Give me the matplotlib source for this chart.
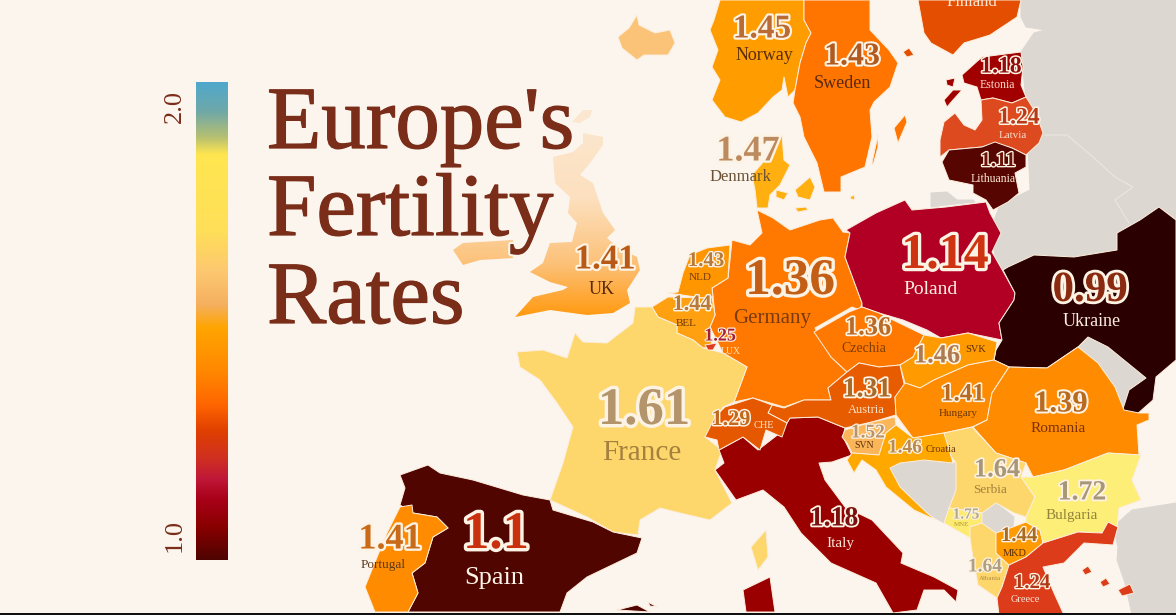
import numpy as np
import matplotlib
matplotlib.use("Agg")
import matplotlib.pyplot as plt
from matplotlib.colors import LinearSegmentedColormap
from matplotlib.patches import Polygon
import matplotlib.patheffects as pe

# ---------- data ----------
labels = ["Norway", "Sweden", "Estonia", "Latvia", "Lithuania", "Denmark", "Poland", "Germany",
          "UK", "NLD", "BEL", "LUX", "Ukraine", "Czechia", "SVK", "Hungary", "Romania", "Austria",
          "CHE", "France", "Italy", "SVN", "Croatia", "Serbia", "Bulgaria", "MNE", "MKD", "Albania",
          "Greece", "Spain", "Portugal"]
rates = [1.45, 1.43, 1.18, 1.24, 1.11, 1.47, 1.14, 1.36,
         1.41, 1.43, 1.44, 1.25, 0.99, 1.36, 1.46, 1.41, 1.39, 1.31,
         1.29, 1.61, 1.18, 1.52, 1.46, 1.64, 1.72, 1.75, 1.44, 1.64,
         1.24, 1.10, 1.41]
scale_ticks = [1.0, 2.0]

# ---------- scale ----------
scale_stops = [(0.00, "#4fa8cc"), (0.06, "#6fa8a8"), (0.115, "#b8c070"), (0.15, "#ffe650"),
               (0.31, "#ffdf58"), (0.395, "#fdc870"), (0.465, "#f5b060"), (0.515, "#ffa500"),
               (0.605, "#ff8800"), (0.675, "#ff6600"), (0.73, "#e04000"), (0.787, "#d03020"),
               (0.83, "#c01838"), (0.875, "#a80018"), (0.933, "#880000"), (1.00, "#4f0400")]
scale_cmap = LinearSegmentedColormap.from_list("fertility", scale_stops)

# ---------- styles ----------
BG = "#fbf5ee"
GREY = "#dcd8d1"
EDGE = "#fdeedd"
TITLE = "#7a2d18"
SERIF = "Liberation Serif"

fills = {"Norway": "#ff9d00", "Sweden": "#ff7500", "Estonia": "#a00000", "Latvia": "#dd4a20",
         "Lithuania": "#560500", "Denmark": "#ffb010", "Poland": "#b10024", "Germany": "#ff7900",
         "NLD": "#ff9600", "BEL": "#ffa010", "LUX": "#e03a20", "Ukraine": "#2b0000",
         "Czechia": "#ff7900", "SVK": "#ff9b00", "Hungary": "#ff8c00", "Romania": "#ff8c00",
         "Austria": "#e85c00", "CHE": "#e65800", "France": "#fdd76c", "Italy": "#9a0000",
         "SVN": "#fbb65a", "Croatia": "#ffa800", "Serbia": "#fdd76c", "Bulgaria": "#fdee78",
         "MNE": "#fdea70", "MKD": "#ff9a00", "Albania": "#fdd76c", "Greece": "#dc3c1a",
         "Spain": "#500500", "Portugal": "#ff8c00", "Finland": "#e34e00", "Iceland": "#fbc377",
         "Grey": GREY}

# name -> list of outline rings, traced in picture pixels
outlines = {
 "Grey": [[(1021,0),(1176,0),(1176,360),(1100,360),(1000,280),(990,230),(1000,205),(1030,190),(1026,100),(1021,52),(1034,33),(1045,30),(1026,27),(1021,17)],
          [(931,193),(947,192),(957,200),(973,200),(975,202),(946,205),(931,207)],
          [(1078,347),(1088,337),(1108,347),(1146,378),(1129,390),(1122,412),(1115,387),(1098,363)],
          [(890,468),(900,463),(924,460),(953,463),(956,463),(956,490),(965,497),(949,508),(944,523),(927,513),(900,487)],
          [(982,513),(996,503),(1014,517),(1013,527),(996,533),(982,523)],
          [(1113,527),(1132,510),(1176,503),(1176,615),(1132,615),(1125,583),(1117,560),(1118,547)]],
 "Iceland": [[(618,37),(629,28),(637,15),(639,25),(655,33),(670,30),(675,43),(668,55),(644,55),(637,60),(622,48)]],
 "Finland": [[(918,0),(1021,0),(1017,17),(990,35),(964,43),(953,55),(931,43),(924,33)],
             [(903,52),(909,48),(914,55),(907,57)]],
 "Norway": [[(720,0),(714,20),(710,30),(718,50),(712,67),(720,80),(712,100),(725,117),(741,122),(758,113),(773,97),(782,90),(784,77),(788,97),(795,90),(800,63),(806,43),(811,33),(804,20),(804,0)]],
 "Sweden": [[(804,0),(804,20),(811,33),(806,43),(800,63),(795,90),(793,103),(800,117),(804,137),(817,163),(824,192),(841,192),(841,177),(865,167),(872,137),(870,110),(874,102),(890,87),(898,63),(889,50),(870,30),(870,0)],
            [(894,128),(905,115),(907,122),(898,143)],
            [(872,163),(878,135),(878,147),(873,165)]],
 "Estonia": [[(962,75),(982,57),(1021,52),(1023,67),(1021,85),(1026,97),(1012,103),(993,98),(981,100),(977,87),(964,83)],
             [(946,80),(955,78),(953,87),(947,85)],
             [(944,100),(953,90),(962,90),(953,100),(947,107)]],
 "Latvia": [[(940,157),(940,140),(944,122),(955,113),(964,125),(975,130),(982,120),(981,100),(993,98),(1012,103),(1026,97),(1036,113),(1043,133),(1039,143),(1026,155),(1012,148),(995,143),(982,147),(949,150)]],
 "Lithuania": [[(942,162),(949,150),(982,147),(995,142),(1012,148),(1026,155),(1026,167),(1015,173),(1019,193),(1008,202),(993,210),(986,200),(973,193),(973,185),(949,180)]],
 "Denmark": [[(752,175),(772,152),(782,135),(784,160),(790,165),(780,185),(770,195),(768,208),(757,208),(755,190)],
             [(795,190),(810,177),(815,187),(810,200),(798,197)],
             [(776,190),(788,193),(784,200),(776,197)],
             [(795,208),(806,207),(808,210),(798,212)],
             [(850,197),(854,195),(855,200),(851,199)]],
 "Germany": [[(757,210),(773,218),(790,230),(820,220),(833,218),(843,232),(850,233),(845,257),(862,303),(860,310),(852,307),(815,328),(831,357),(847,372),(828,388),(831,400),(804,400),(784,407),(753,398),(734,402),(747,367),(723,353),(710,327),(715,315),(712,288),(728,278),(730,260),(732,240),(750,245),(762,233)]],
 "Poland": [[(846,230),(876,213),(905,200),(912,210),(946,207),(986,202),(990,213),(1001,233),(992,252),(1004,273),(1015,293),(1014,300),(999,323),(1002,340),(968,333),(941,338),(927,330),(903,320),(879,313),(862,307),(862,303),(845,257),(850,233)]],
 "NLD": [[(668,293),(678,292),(683,273),(690,255),(707,248),(730,245),(728,278),(712,288),(713,297),(703,298)]],
 "BEL": [[(652,307),(668,297),(703,298),(712,297),(715,315),(710,327),(712,347),(703,348),(693,340),(677,333),(677,325),(658,317)]],
 "France": [[(517,352),(543,350),(567,358),(575,333),(583,342),(607,343),(633,323),(635,307),(652,307),(658,317),(677,325),(677,333),(693,340),(703,348),(723,353),(747,367),(734,402),(723,407),(705,437),(722,450),(715,470),(732,503),(710,520),(680,513),(660,508),(640,520),(638,535),(613,532),(587,517),(550,500),(563,463),(573,427),(557,403),(540,380),(520,367)],
            [(766,530),(768,557),(758,570),(751,547)]],
 "LUX": [[(705,345),(717,343),(713,350),(708,350)]],
 "Spain": [[(400,475),(428,465),(440,473),(473,480),(523,495),(550,500),(553,510),(593,522),(613,532),(642,538),(637,553),(587,577),(567,593),(560,612),(408,612),(418,593),(412,573),(425,563),(433,537),(448,528),(437,517),(413,513),(400,505),(405,488)],
           [(617,610),(637,605),(650,612)],
           [(648,602),(657,607),(650,606)]],
 "Portugal": [[(400,507),(412,505),(413,513),(437,517),(448,528),(433,537),(425,563),(412,573),(418,593),(408,612),(375,612),(365,587),(373,567),(387,533)]],
 "Italy": [[(719,450),(743,437),(758,450),(780,433),(790,418),(818,417),(845,428),(843,437),(852,455),(832,462),(819,463),(825,480),(845,507),(872,520),(903,553),(901,563),(934,577),(958,590),(956,602),(944,590),(924,590),(917,610),(893,613),(876,583),(831,563),(801,533),(784,507),(763,490),(736,500),(715,470),(724,463)],
           [(743,590),(770,577),(775,612),(746,612)]],
 "Ukraine": [[(996,350),(994,360),(1009,367),(1047,368),(1078,347),(1088,337),(1108,347),(1146,378),(1129,390),(1122,412),(1136,415),(1153,400),(1156,377),(1176,360),(1176,220),(1159,207),(1140,220),(1117,233),(1117,250),(1074,257),(1034,255),(1008,267),(1003,270),(1015,293),(1014,300),(999,323),(1002,340)]],
 "Czechia": [[(814,332),(849,312),(862,307),(879,313),(893,320),(924,335),(913,357),(900,365),(879,367),(859,363),(847,372),(831,357)]],
 "SVK": [[(924,335),(941,338),(968,333),(997,342),(994,360),(968,365),(934,380),(920,388),(905,383),(900,365),(913,357)]],
 "Austria": [[(772,405),(784,408),(804,400),(831,400),(828,388),(847,372),(859,363),(879,367),(900,365),(905,388),(895,397),(896,415),(872,422),(845,428),(818,417),(790,418),(787,423),(768,413)]],
 "CHE": [[(705,437),(715,417),(725,407),(753,398),(772,405),(768,413),(787,423),(782,437),(766,430),(760,450),(743,437),(719,450),(717,440)]],
 "Hungary": [[(905,383),(920,388),(934,380),(968,365),(994,360),(1009,367),(992,393),(987,420),(972,427),(944,433),(913,438),(896,415),(895,397)]],
 "Romania": [[(1009,367),(1047,368),(1078,347),(1098,363),(1115,387),(1124,410),(1139,413),(1149,413),(1149,420),(1137,425),(1139,455),(1108,453),(1064,470),(1033,477),(1026,463),(996,453),(973,427),(987,420),(992,393)]],
 "Serbia": [[(944,433),(972,427),(996,453),(1026,463),(1021,477),(1035,497),(1026,517),(1014,513),(996,503),(982,513),(949,508),(956,490),(956,463),(949,453)]],
 "SVN": [[(842,437),(845,430),(872,422),(895,417),(896,425),(886,433),(879,455),(852,453),(847,443)]],
 "Croatia": [[(896,425),(913,438),(944,433),(953,463),(924,460),(900,463),(890,468),(900,487),(927,513),(936,520),(914,510),(886,487),(876,470),(862,460),(854,473),(847,460),(852,453),(879,455),(886,433)]],
 "MNE": [[(949,508),(982,513),(982,523),(970,527),(970,538),(944,523)]],
 "Albania": [[(970,527),(982,523),(996,533),(996,553),(1009,565),(1002,587),(997,598),(978,585),(973,558),(970,538)]],
 "MKD": [[(996,533),(1013,527),(1026,522),(1040,530),(1043,543),(1026,557),(1009,565),(996,553)]],
 "Bulgaria": [[(1021,477),(1033,477),(1064,470),(1108,453),(1141,455),(1132,480),(1141,500),(1119,508),(1117,527),(1102,533),(1078,532),(1043,543),(1040,530),(1026,522),(1026,517),(1035,497)]],
 "Greece": [[(1009,565),(1026,557),(1043,543),(1078,532),(1102,533),(1108,522),(1118,527),(1113,545),(1084,543),(1064,563),(1043,567),(1054,593),(1064,615),(999,615),(997,598),(1002,587)],
            [(1118,590),(1130,584),(1134,593),(1122,596)],
            [(1082,570),(1088,566),(1092,572),(1085,575)],
            [(1100,582),(1106,578),(1110,584),(1103,587)]],
}
uk_outlines = [
 [(583,133),(603,137),(603,145),(590,163),(580,175),(593,183),(603,213),(615,230),(607,238),(617,247),(637,257),(640,270),(627,290),(630,303),(613,313),(587,315),(550,310),(515,317),(533,297),(563,290),(568,287),(550,282),(530,272),(543,263),(550,243),(572,242),(577,223),(568,213),(570,197),(555,183),(553,157),(573,152),(583,143)],
 [(453,250),(463,243),(513,240),(513,258),(480,260),(463,265)],
 [(572,122),(583,110),(592,110),(590,117),(580,123)],
]
uk_stops = [(0.0, "#fbe9d2"), (0.45, "#fde0bf"), (0.75, "#fcc27a"), (0.9, "#ffa93a"), (1.0, "#ff9a10")]
belarus_border = [(1045,135),(1067,135),(1093,157),(1115,177),(1133,187),(1115,200),(1129,223)]

# label -> (value x, value y, value size, value colour, name x, name y, name size, name colour)
placement = {
 "Norway": (762,29,24,"#b96a35",764,55,13,"#5a2d0a"),
 "Sweden": (852,57,23,"#b05a20",842,83,13,"#5a2a10"),
 "Estonia": (1001,67,17,"#8f0f0f",997,85,8.5,"#fbdcc8"),
 "Latvia": (1019,118,17,"#b83a18",1013,135,8,"#fbdcc8"),
 "Lithuania": (998,161,15,"#6a1208",993,179,8.5,"#fbe9d8"),
 "Denmark": (748,152,26,"#bc8a5f",740,177,12,"#6b5234"),
 "Poland": (945,256,36,"#cf3412",931,289,14,"#fdeee0"),
 "Germany": (790,282,37,"#c25e16",772,318,15,"#7a3a0e"),
 "UK": (605,260,25,"#b85a15",602,290,13,"#5a2a0a"),
 "NLD": (706,261,15,"#b87a3a",700,277,8,"#7a3d08"),
 "BEL": (692,305,16,"#b87a3a",686,323,8,"#6b3608"),
 "LUX": (720,336,13,"#a51e35",731,351,7,"#fbe3c8"),
 "Ukraine": (1090,291,31,"#8a2a10",1092,321,13,"#fdeee0"),
 "Czechia": (868,328,19,"#b86a28",864,348,10,"#7a3d08"),
 "SVK": (937,356,19,"#ae7a50",976,350,7.5,"#5a2d0a"),
 "Hungary": (963,394,18,"#b86a20",958,413,8,"#6b3608"),
 "Romania": (1061,404,22,"#b86a20",1058,428,11,"#7a3008"),
 "Austria": (867,390,20,"#a86a28",866,410,9,"#fde2c8"),
 "CHE": (731,420,16,"#c06a20",764,425,7.5,"#fde2c8"),
 "France": (644,411,38,"#b3946b",642,453,21,"#a5803e"),
 "Italy": (834,519,20,"#7a1010",840,543,11,"#fde8d8"),
 "SVN": (868,433,14,"#b89468",864,446,7,"#5a3008"),
 "Croatia": (905,448,14,"#b88a50",941,449,7.5,"#6b3608"),
 "Serbia": (997,470,19,"#a89678",990,490,9.5,"#a5803e"),
 "Bulgaria": (1082,493,20,"#a89678",1072,515,11,"#93843a"),
 "MNE": (966,515,11,"#b0a888",962,525,5,"#b09a30"),
 "MKD": (1019,536,15,"#a86a20",1015,553,7.5,"#5a2d0a"),
 "Albania": (985,567,14,"#b0a080",990,578,5,"#b08a3e"),
 "Greece": (1032,583,15,"#b03a18",1025,600,7.5,"#fde8d8"),
 "Spain": (496,535,38,"#c9300d",494,578,19,"#fdf3e8"),
 "Portugal": (390,540,26,"#c86a18",383,565,9.5,"#5a3a20"),
}

# ---------- figure ----------
fig = plt.figure(figsize=(11.76, 6.15), dpi=100, facecolor=BG)
ax = fig.add_axes([0, 0, 1, 1])
ax.set_xlim(0, 1176)
ax.set_ylim(615, 0)
ax.axis("off")

# land
for name, rings in outlines.items():
    for ring in rings:
        edge = GREY if name == "Grey" else EDGE
        ax.add_patch(Polygon(ring, closed=True, facecolor=fills[name], edgecolor=edge,
                             linewidth=0.7, joinstyle="round", zorder=1 if name == "Grey" else 2))
ax.plot(*zip(*belarus_border), color="#ebe7e0", lw=0.8, zorder=1.5)

# UK fades towards the title
uk_cmap = LinearSegmentedColormap.from_list("uk", uk_stops)
grad = np.linspace(0, 1, 256).reshape(-1, 1)
for ring in uk_outlines:
    im = ax.imshow(grad, extent=(440, 650, 317, 100), cmap=uk_cmap, aspect="auto", zorder=2)
    im.set_clip_path(Polygon(ring, closed=True, transform=ax.transData))
ax.set_xlim(0, 1176)
ax.set_ylim(615, 0)

# colour scale
lo = 0.942
hi = 2.058
im = ax.imshow(grad, extent=(196, 228, 560, 82), cmap=scale_cmap, aspect="auto", zorder=3)
ax.set_xlim(0, 1176)
ax.set_ylim(615, 0)
for t in scale_ticks:
    ypos = 560 - (t - lo) / (hi - lo) * (560 - 82)
    ax.text(175, ypos, f"{t:.1f}", rotation=90, ha="center", va="center",
            family=SERIF, fontsize=19, color=TITLE, zorder=5)

# title
for line, base in zip(["Europe's", "Fertility", "Rates"], [148, 235, 323]):
    ax.text(267, base, line, family=SERIF, fontsize=64, color=TITLE, ha="left", va="baseline", zorder=6,
            path_effects=[pe.Stroke(linewidth=4, foreground=BG),
                          pe.Stroke(linewidth=0.9, foreground=TITLE), pe.Normal()])

# labels
for label, rate in zip(labels, rates):
    vx, vy, vs, vc, nx, ny, ns, nc = placement[label]
    ax.text(vx, vy, f"{rate:g}", family=SERIF, fontsize=vs, fontweight="bold",
            color=vc, ha="center", va="center", zorder=8,
            path_effects=[pe.withStroke(linewidth=max(1.6, vs * 0.13), foreground="#fdf3e4")])
    ax.text(nx, ny, label, family=SERIF, fontsize=ns, color=nc, ha="center", va="center", zorder=8)
ax.text(972, 2, "Finland", family=SERIF, fontsize=12, color="#fde8d8", ha="center", va="center", zorder=8)

# bottom rule of the source picture
ax.axhspan(613, 615, color="#111111", zorder=9, lw=0)

fig.savefig("out.png", dpi=100, facecolor=BG)
